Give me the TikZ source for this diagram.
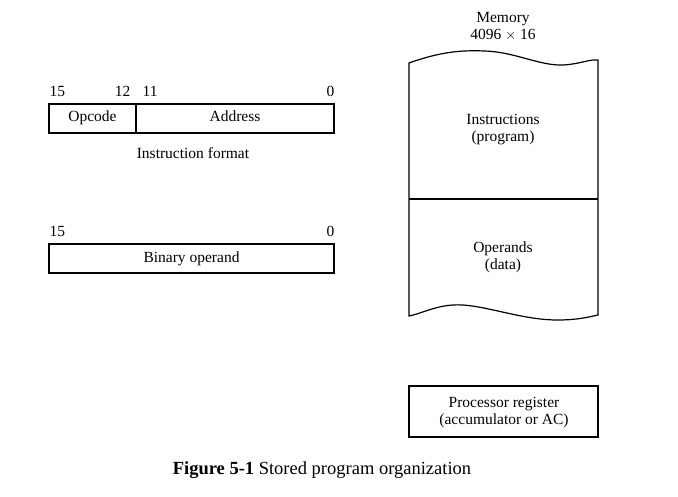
\documentclass[tikz,border=0pt]{standalone}
\usepackage{fontspec}
\setmainfont{Liberation Serif}

\begin{document}
\begin{tikzpicture}[x=1pt,y=-1pt,line width=1.2pt,
    lbl/.style={anchor=base,inner sep=0pt,font=\fontsize{15.5}{18}\selectfont},
    twolbl/.style={anchor=base,inner sep=0pt,align=center,font=\fontsize{15.5}{17.2}\selectfont},
    bitno/.style={anchor=base,inner sep=0pt,font=\fontsize{15.5}{18}\selectfont}]
  \useasboundingbox (0,0) rectangle (678,497);

  % instruction format
  \draw (49,104) rectangle (334,133);
  \draw (136,104) -- (136,133);
  \node[bitno,anchor=base west] (ib15) at (49,97) {15};
  \node[bitno,anchor=base east] (ib12) at (131,97) {12};
  \node[bitno,anchor=base west] (ib11) at (142,97) {11};
  \node[bitno,anchor=base east] (ib0) at (335,97) {0};
  \node[lbl] (opcode) at (92.5,122) {Opcode};
  \node[lbl] (address) at (235,122) {Address};
  \node[lbl] (iformat) at (193,159) {Instruction format};

  % binary operand
  \draw (49,244) rectangle (334,273);
  \node[bitno,anchor=base west] (ob15) at (49,237) {15};
  \node[bitno,anchor=base east] (ob0) at (335,237) {0};
  \node[lbl] (operand) at (191.5,263) {Binary operand};

  % memory
  \coordinate (mtl) at (409,63);
  \coordinate (mtr) at (598,60);
  \coordinate (mbl) at (409,316);
  \coordinate (mbr) at (598,315);
  \draw (mtl) .. controls (440,52) and (460,50) .. (485,51)
              .. controls (515,52) and (540,66) .. (563,65)
              .. controls (580,64) and (590,59) .. (mtr)
        -- (mbr)
        .. controls (585,318) and (575,320) .. (557,320)
        .. controls (520,320) and (480,303) .. (453,305)
        .. controls (435,306) and (420,314) .. (mbl) -- cycle;
  \draw (409,199) -- (598,199);
  \node[twolbl] (mem) at (503,39.8) {Memory\\4096 $\times$ 16};
  \node[twolbl] (instr) at (503,141.8) {Instructions\\(program)};
  \node[twolbl] (opnds) at (503,269.8) {Operands\\(data)};

  % processor register
  \draw (409,386) rectangle (598,437);
  \node[twolbl] (preg) at (504,424.8) {Processor register\\(accumulator or AC)};

  \node[anchor=base,inner sep=0pt,font=\fontsize{18.5}{22}\selectfont] (caption) at (322,474)
    {\textbf{Figure 5-1} Stored program organization};
\end{tikzpicture}
\end{document}
